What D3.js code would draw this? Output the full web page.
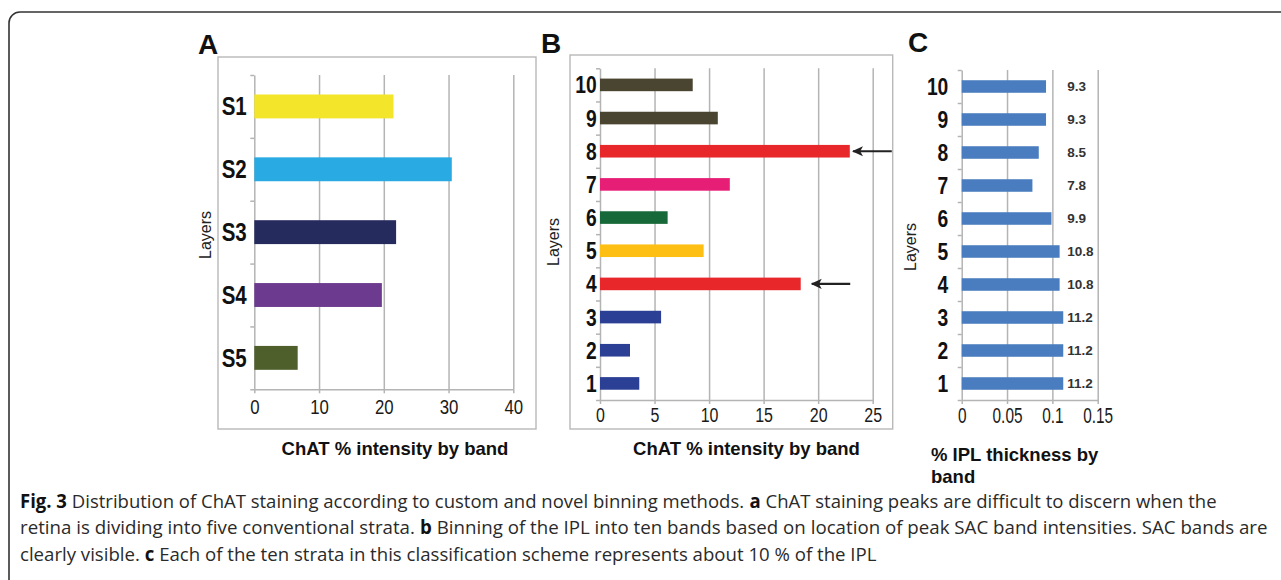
<!DOCTYPE html>
<html>
<head>
<meta charset="utf-8">
<script src="https://cdn.jsdelivr.net/npm/d3@7"></script>
<style>
  body { margin: 0; background: #fff; }
  svg { display: block; }
</style>
</head>
<body>
<div id="chart"></div>
<script>
// panel A - five conventional strata
const layersA = ["S1", "S2", "S3", "S4", "S5"];
const valuesA = [21.5, 30.5, 21.9, 19.7, 6.7];
const colorsA = ["#f2e52a", "#29aae2", "#262b5e", "#6c3a8e", "#4f5f2b"];
const xTicksA = [0, 10, 20, 30, 40];

// panel B - ten bands
const layersB = ["10", "9", "8", "7", "6", "5", "4", "3", "2", "1"];
const valuesB = [8.5, 10.8, 22.9, 11.9, 6.2, 9.5, 18.4, 5.6, 2.75, 3.6];
const colorsB = ["#4a4530", "#4a4530", "#e8272b", "#e71e76", "#17693a", "#fdbf14", "#e8272b", "#2b3f95", "#2b3f95", "#2b3f95"];
const xTicksB = [0, 5, 10, 15, 20, 25];
const arrowsB = [{ layer: "8", from: 26.75, to: 23.2 }, { layer: "4", from: 22.94, to: 19.42 }];

// panel C - IPL thickness
const layersC = ["10", "9", "8", "7", "6", "5", "4", "3", "2", "1"];
const valuesC = [0.093, 0.093, 0.085, 0.078, 0.099, 0.108, 0.108, 0.112, 0.112, 0.112];
const labelsC = ["9.3", "9.3", "8.5", "7.8", "9.9", "10.8", "10.8", "11.2", "11.2", "11.2"];
const xTicksC = [0, 0.05, 0.1, 0.15];

const captionLines = [
	[["Fig. 3", true], ["Distribution of ChAT staining according to custom and novel binning methods.", false], ["a", true], ["ChAT staining peaks are difficult to discern when the", false]],
	[["retina is dividing into five conventional strata.", false], ["b", true], ["Binning of the IPL into ten bands based on location of peak SAC band intensities. SAC bands are", false]],
	[["clearly visible.", false], ["c", true], ["Each of the ten strata in this classification scheme represents about 10 % of the IPL", false]]
];

const W = 1281, H = 580;
const sans = "'Liberation Sans', Arial, sans-serif";
const gridColor = "#b4b4b4";
const narrowScale = 0.82; // Arial Narrow look, Liberation Sans squeezed

const svg = d3.select("#chart").append("svg").attr("width", W).attr("height", H);

svg.append("rect").attr("width", W).attr("height", H).attr("fill", "#fff");

// outer rounded frame (runs off the right and bottom)
svg.append("rect")
	.attr("x", 9).attr("y", 12)
	.attr("width", 1320).attr("height", 620)
	.attr("rx", 11)
	.attr("fill", "none")
	.attr("stroke", "#333")
	.attr("stroke-width", 1.6);

svg.append("defs").append("marker")
	.attr("id", "arrow")
	.attr("viewBox", "0 -5 10 10")
	.attr("refX", 9).attr("refY", 0)
	.attr("markerUnits", "userSpaceOnUse")
	.attr("markerWidth", 11).attr("markerHeight", 11)
	.attr("orient", "auto")
	.append("path")
	.attr("d", "M0,-4.6L10,0L0,4.6L2.5,0Z")
	.attr("fill", "#222");

var drawPanel = (p) => {
	const g = svg.append("g");

	if (p.box) {
		g.append("rect")
			.attr("x", p.box[0]).attr("y", p.box[1])
			.attr("width", p.box[2] - p.box[0]).attr("height", p.box[3] - p.box[1])
			.attr("fill", "none")
			.attr("stroke", "#b8b8b8")
			.attr("stroke-width", 1.4);
	}

	g.append("text")
		.attr("x", p.letterX).attr("y", p.letterY)
		.attr("font-family", sans).attr("font-weight", "bold")
		.attr("font-size", 28).attr("fill", "#111")
		.text(p.letter);

	let x = d3.scaleLinear().domain([p.xTicks[0], p.xTicks[p.xTicks.length - 1]]).range(p.xRange);
	let y = d3.scaleBand().domain(p.layers).range(p.yRange).paddingInner(0.62).paddingOuter(0.31);
	let yIdx = d3.scaleLinear().domain([0, p.layers.length]).range(p.yRange);
	let bottom = p.yRange[1], top = p.yRange[0];

	// vertical gridlines
	g.append("g")
		.attr("transform", `translate(0,${bottom})`)
		.call(d3.axisBottom(x).tickValues(p.xTicks.slice(1)).tickSize(-(bottom - top)).tickSizeOuter(0).tickFormat(""))
		.call((g) => g.select(".domain").remove())
		.call((g) => g.selectAll(".tick line").attr("stroke", gridColor).attr("stroke-width", 1.5));

	// x axis
	let xAxis = g.append("g")
		.attr("transform", `translate(0,${bottom})`)
		.call(d3.axisBottom(x).tickValues(p.xTicks).tickSize(4).tickSizeOuter(0).tickPadding(p.tickPad).tickFormat((d) => String(d)));
	xAxis.select(".domain").attr("stroke", gridColor).attr("stroke-width", 1.5);
	xAxis.selectAll(".tick line").attr("stroke", gridColor).attr("stroke-width", 1.5);
	xAxis.selectAll(".tick text")
		.attr("font-family", sans)
		.attr("font-size", p.tickFont)
		.attr("fill", "#1a1a1a")
		.attr("transform", `scale(${p.tickScale},1)`);

	// y axis line with band separators
	let yLine = g.append("g")
		.attr("transform", `translate(${p.xRange[0]},0)`)
		.call(d3.axisLeft(yIdx).tickValues(d3.range(p.layers.length + 1)).tickSize(4).tickSizeOuter(0).tickFormat(""));
	yLine.select(".domain").attr("stroke", gridColor).attr("stroke-width", 1.5);
	yLine.selectAll(".tick line").attr("stroke", gridColor).attr("stroke-width", 1.5);

	// bars
	g.append("g")
		.selectAll("rect")
		.data(p.values)
		.join("rect")
		.attr("x", x(0))
		.attr("y", (d, i) => y(p.layers[i]))
		.attr("width", (d) => x(d) - x(0))
		.attr("height", y.bandwidth())
		.attr("fill", (d, i) => p.colors[i]);

	// layer labels (squeezed horizontally, so x is divided by the scale)
	let yAxis = g.append("g")
		.attr("transform", `translate(${p.xRange[0]},0)`)
		.call(d3.axisLeft(y).tickSize(0).tickPadding(p.labelPad))
		.call((g) => g.select(".domain").remove());
	yAxis.selectAll(".tick text")
		.attr("font-family", sans)
		.attr("font-weight", "bold")
		.attr("font-size", p.labelFont)
		.attr("fill", "#111")
		.attr("x", -p.labelPad / narrowScale)
		.attr("dy", "0.36em")
		.attr("transform", `scale(${narrowScale},1)`);

	g.append("text")
		.attr("transform", `translate(${p.layersPos[0]},${p.layersPos[1]}) rotate(-90)`)
		.attr("text-anchor", "middle")
		.attr("dy", "0.35em")
		.attr("font-family", sans)
		.attr("font-size", 16)
		.attr("fill", "#222")
		.text("Layers");

	g.append("text")
		.attr("x", p.titlePos[0]).attr("y", p.titlePos[1])
		.attr("text-anchor", p.titleAnchor)
		.attr("font-family", sans)
		.attr("font-weight", "bold")
		.attr("font-size", 18.5)
		.attr("fill", "#111")
		.selectAll("tspan")
		.data(p.title)
		.join("tspan")
		.attr("x", p.titlePos[0])
		.attr("dy", (d, i) => (i === 0 ? 0 : 22))
		.text((d) => d);

	return { g, x, y };
};

drawPanel({
	letter: "A", letterX: 198, letterY: 54,
	box: [218, 57, 536, 429],
	layers: layersA, values: valuesA, colors: colorsA, xTicks: xTicksA,
	xRange: [254.3, 513.3], yRange: [75, 389.3],
	tickFont: 20.5, tickScale: narrowScale, tickPad: 6.5,
	labelFont: 25, labelPad: 7.6,
	layersPos: [205.5, 235],
	title: ["ChAT % intensity by band"], titlePos: [395, 455], titleAnchor: "middle"
});

let panelB = drawPanel({
	letter: "B", letterX: 541, letterY: 53,
	box: [570, 55, 892.7, 429],
	layers: layersB, values: valuesB, colors: colorsB, xTicks: xTicksB,
	xRange: [600, 872.7], yRange: [68.3, 400],
	tickFont: 19.5, tickScale: narrowScale, tickPad: 4.2,
	labelFont: 23.5, labelPad: 3.3,
	layersPos: [553.5, 242],
	title: ["ChAT % intensity by band"], titlePos: [746.5, 455], titleAnchor: "middle"
});

// arrows pointing at the two SAC peaks
panelB.g.append("g")
	.selectAll("line")
	.data(arrowsB)
	.join("line")
	.attr("x1", (d) => panelB.x(d.from))
	.attr("x2", (d) => panelB.x(d.to))
	.attr("y1", (d) => panelB.y(d.layer) + panelB.y.bandwidth() / 2)
	.attr("y2", (d) => panelB.y(d.layer) + panelB.y.bandwidth() / 2)
	.attr("stroke", "#222")
	.attr("stroke-width", 2.2)
	.attr("marker-end", "url(#arrow)");

let panelC = drawPanel({
	letter: "C", letterX: 908, letterY: 52,
	box: null,
	layers: layersC, values: valuesC, colors: layersC.map(() => "#4a7dbf"), xTicks: xTicksC,
	xRange: [961.7, 1097.7], yRange: [70, 400],
	tickFont: 22, tickScale: 0.7, tickPad: 3.6,
	labelFont: 23.5, labelPad: 13.4,
	layersPos: [910.5, 247],
	title: ["% IPL thickness by", "band"], titlePos: [931, 460.5], titleAnchor: "start"
});

// thickness labels to the right of the bars
panelC.g.append("g")
	.selectAll("text")
	.data(labelsC)
	.join("text")
	.attr("x", panelC.x(0.1165))
	.attr("y", (d, i) => panelC.y(layersC[i]) + panelC.y.bandwidth() / 2)
	.attr("dy", "0.36em")
	.attr("font-family", sans)
	.attr("font-weight", "bold")
	.attr("font-size", 13.5)
	.attr("fill", "#333")
	.text((d) => d);

// caption: one text per run laid out at natural width, then the whole
// line is squeezed horizontally so it keeps the reference width
const captionWidths = [1197, 1248, 857];
const captionFont = "'Open Sans', 'Noto Sans', sans-serif";
let probe = svg.append("text").attr("font-family", captionFont).attr("font-size", 19);
const spaceW = probe.text("a a").node().getComputedTextLength() - probe.text("aa").node().getComputedTextLength();
probe.remove();

captionLines.forEach((line, i) => {
	let row = svg.append("g");
	let runs = row.selectAll("text")
		.data(line)
		.join("text")
		.attr("font-family", captionFont)
		.attr("font-size", 19)
		.attr("font-weight", (d) => (d[1] ? "bold" : "normal"))
		.attr("fill", (d) => (d[1] ? "#111" : "#2a2a2a"))
		.text((d) => d[0]);
	let natural = runs.nodes().map((n) => n.getComputedTextLength());
	let k = captionWidths[i] / (d3.sum(natural) + spaceW * (line.length - 1));
	let pos = 0;
	runs.each(function (d, j) {
		d3.select(this).attr("x", pos);
		pos += natural[j] + spaceW;
	});
	row.attr("transform", `translate(20,${507.5 + i * 26.7}) scale(${k},1)`);
});
</script>
</body>
</html>
